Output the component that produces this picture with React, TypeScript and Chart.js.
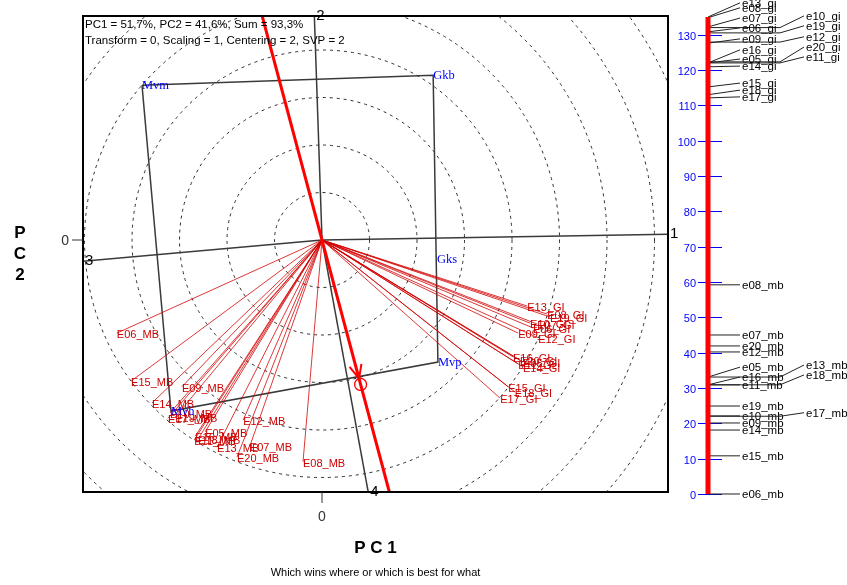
import React, { useEffect, useRef } from 'react';
import Chart from 'chart.js/auto';

// ---------- data ----------
const pcInfo = 'PC1 = 51,7%, PC2 = 41,6%, Sum = 93,3%';
const modelInfo = 'Transform = 0, Scaling = 1, Centering = 2, SVP = 2';
const caption = 'Which wins where or which is best for what';
const xTitle = 'P C 1';
const yTitle = ['P', 'C', '2'];

const genotypeNames = ['Mvm', 'Gkb', 'Gks', 'Mvp', 'Mvh'];
const genotypePC1 = [-3.79, 2.34, 2.42, 2.44, -3.18];
const genotypePC2 = [3.26, 3.47, -0.4, -2.57, -3.6];
// polygon vertices (convex hull) and sector number for each hull edge
const hullVertices = ['Mvm', 'Gkb', 'Mvp', 'Mvh'];
const sectorLabels = ['2', '1', '4', '3'];

const envNames = [
  'E06_MB', 'E15_MB', 'E09_MB', 'E14_MB', 'E10_MB', 'E19_MB', 'E17_MB', 'E12_MB',
  'E05_MB', 'E16_MB', 'E18_MB', 'E11_MB', 'E13_MB', 'E07_MB', 'E20_MB', 'E08_MB',
  'E13_GI', 'E08_GI', 'E19_GI', 'E10_GI', 'E07_GI', 'E06_GI', 'E09_GI', 'E12_GI',
  'E16_GI', 'E20_GI', 'E05_GI', 'E11_GI', 'E14_GI', 'E15_GI', 'E18_GI', 'E17_GI',
];
const envPC1 = [
  -4.32, -4.02, -2.95, -3.58, -3.2, -3.09, -3.24, -1.66,
  -2.46, -2.67, -2.61, -2.69, -2.21, -1.52, -1.79, -0.4,
  4.32, 4.74, 4.8, 4.38, 4.53, 4.44, 4.13, 4.55,
  4.02, 4.17, 4.23, 4.13, 4.23, 3.92, 4.06, 3.75,
];
const envPC2 = [
  -1.96, -2.97, -3.09, -3.43, -3.64, -3.73, -3.75, -3.79,
  -4.04, -4.13, -4.19, -4.21, -4.36, -4.34, -4.57, -4.67,
  -1.39, -1.56, -1.62, -1.75, -1.77, -1.85, -1.96, -2.06,
  -2.46, -2.53, -2.57, -2.61, -2.67, -3.09, -3.2, -3.33,
];
const circleRadii = [1, 2, 3, 4, 5, 6, 7, 8, 9, 10];

const rankNames = [
  'e13_gi', 'e08_gi', 'e07_gi', 'e10_gi', 'e06_gi', 'e19_gi', 'e09_gi', 'e12_gi',
  'e16_gi', 'e05_gi', 'e20_gi', 'e11_gi', 'e14_gi', 'e15_gi', 'e18_gi', 'e17_gi',
  'e08_mb', 'e07_mb', 'e20_mb', 'e12_mb', 'e05_mb', 'e13_mb', 'e16_mb', 'e18_mb',
  'e11_mb', 'e19_mb', 'e10_mb', 'e17_mb', 'e09_mb', 'e14_mb', 'e15_mb', 'e06_mb',
];
const rankValues = [
  135.0, 134.8, 132.2, 132.0, 130.8, 130.5, 127.6, 127.9,
  122.0, 122.0, 122.3, 122.0, 120.9, 115.2, 113.0, 112.1,
  59.2, 45.0, 41.9, 40.2, 33.1, 33.1, 30.9, 30.9,
  30.9, 24.9, 22.1, 22.0, 20.1, 18.1, 10.8, 0,
];
const rankTicks = [0, 10, 20, 30, 40, 50, 60, 70, 80, 90, 100, 110, 120, 130];

// ---------- layout (label placement for the ranking column) ----------
const rankColumn = [
  1, 1, 1, 2, 1, 2, 1, 2, 1, 1, 2, 2, 1, 1, 1, 1,
  1, 1, 1, 1, 1, 2, 1, 2, 1, 1, 1, 2, 1, 1, 1, 1,
];
const rankLabelAt = [
  139.0, 137.6, 134.7, 135.3, 131.9, 132.5, 128.8, 129.4,
  125.7, 123.1, 126.5, 123.7, 121.1, 116.3, 114.3, 112.4,
  59.2, 45.0, 41.9, 40.2, 35.9, 36.5, 33.1, 33.7,
  30.9, 24.9, 22.1, 23.0, 20.1, 18.1, 10.8, 0,
];

const X_MIN = -5.032, X_MAX = 7.284, Y_MIN = -5.305, Y_MAX = 4.716;
const RANK_MIN = 0.566, RANK_MAX = 135.28;

const SANS = '"Liberation Sans", Arial, sans-serif';
const SERIF = '"Liberation Serif", "Times New Roman", serif';

function extendRay(dx: number, dy: number) {
  let s = Infinity;
  if (dx > 0) s = Math.min(s, X_MAX / dx);
  if (dx < 0) s = Math.min(s, X_MIN / dx);
  if (dy > 0) s = Math.min(s, Y_MAX / dy);
  if (dy < 0) s = Math.min(s, Y_MIN / dy);
  return { x: dx * s, y: dy * s };
}

function gIndex(name: string) {
  return genotypeNames.indexOf(name);
}

function sectorRays() {
  const rays: { x: number; y: number; label: string }[] = [];
  for (let i = 0; i < hullVertices.length; i++) {
    const a = gIndex(hullVertices[i]);
    const b = gIndex(hullVertices[(i + 1) % hullVertices.length]);
    const ax = genotypePC1[a], ay = genotypePC2[a];
    const ex = genotypePC1[b] - ax, ey = genotypePC2[b] - ay;
    const t = -(ax * ex + ay * ey) / (ex * ex + ey * ey);
    const fx = ax + t * ex, fy = ay + t * ey;
    const end = extendRay(fx, fy);
    rays.push({ x: end.x, y: end.y, label: sectorLabels[i] });
  }
  return rays;
}

const mean = (a: number[]) => a.reduce((s, v) => s + v, 0) / a.length;

const biplotPlugin = {
  id: 'biplotDecor',
  beforeDatasetsDraw(chart: any) {
    const { ctx, chartArea: a, scales } = chart;
    const x = scales.x, y = scales.y;
    const ox = x.getPixelForValue(0), oy = y.getPixelForValue(0);
    const unit = x.getPixelForValue(1) - ox;
    ctx.save();
    ctx.beginPath();
    ctx.rect(a.left, a.top, a.right - a.left, a.bottom - a.top);
    ctx.clip();
    ctx.setLineDash([3, 4]);
    ctx.strokeStyle = '#2a2a2a';
    ctx.lineWidth = 1;
    for (const r of circleRadii) {
      ctx.beginPath();
      ctx.arc(ox, oy, r * unit, 0, Math.PI * 2);
      ctx.stroke();
    }
    ctx.restore();
  },
  afterDatasetsDraw(chart: any) {
    const { ctx, chartArea: a, scales } = chart;
    const x = scales.x, y = scales.y;
    const ox = x.getPixelForValue(0), oy = y.getPixelForValue(0);
    ctx.save();

    // environment labels
    ctx.font = `11px ${SANS}`;
    ctx.fillStyle = '#cc0000';
    ctx.textAlign = 'left';
    ctx.textBaseline = 'middle';
    envNames.forEach((n, i) => {
      ctx.fillText(n, x.getPixelForValue(envPC1[i]), y.getPixelForValue(envPC2[i]) + 2);
    });

    // genotype labels
    ctx.font = `12.5px ${SERIF}`;
    ctx.fillStyle = '#0000ff';
    genotypeNames.forEach((n, i) => {
      ctx.fillText(n, x.getPixelForValue(genotypePC1[i]), y.getPixelForValue(genotypePC2[i]) + 1);
    });

    // average environment circle + arrow
    const cx = x.getPixelForValue(mean(envPC1));
    const cy = y.getPixelForValue(mean(envPC2));
    const L = Math.hypot(cx - ox, cy - oy);
    const ux = (cx - ox) / L, uy = (cy - oy) / L;
    ctx.strokeStyle = '#ff0000';
    ctx.lineWidth = 1.3;
    ctx.beginPath();
    ctx.arc(cx, cy, 6, 0, Math.PI * 2);
    ctx.stroke();
    const tx = cx - ux * 6, ty = cy - uy * 6;
    ctx.lineWidth = 2;
    for (const ang of [0.42, -0.42]) {
      const bx = -ux * Math.cos(ang) + uy * Math.sin(ang);
      const by = -ux * Math.sin(ang) - uy * Math.cos(ang);
      ctx.beginPath();
      ctx.moveTo(tx, ty);
      ctx.lineTo(tx + bx * 15, ty + by * 15);
      ctx.stroke();
    }

    // info text
    ctx.font = `11.5px ${SANS}`;
    ctx.fillStyle = '#000';
    ctx.fillText(pcInfo, a.left + 2, a.top + 9);
    ctx.fillText(modelInfo, a.left + 2, a.top + 25);
    ctx.restore();
  },
  afterDraw(chart: any) {
    const { ctx, chartArea: a, scales } = chart;
    const x = scales.x, y = scales.y, yr = scales.yr;
    const ox = x.getPixelForValue(0), oy = y.getPixelForValue(0);
    ctx.save();

    // frame
    ctx.strokeStyle = '#000';
    ctx.lineWidth = 2;
    ctx.strokeRect(a.left, a.top, a.right - a.left, a.bottom - a.top);

    // sector numbers
    ctx.font = `15px ${SANS}`;
    ctx.fillStyle = '#000';
    ctx.textAlign = 'left';
    ctx.textBaseline = 'middle';
    for (const r of sectorRays()) {
      ctx.fillText(r.label, x.getPixelForValue(r.x) + 2, y.getPixelForValue(r.y));
    }

    // zero ticks
    ctx.lineWidth = 1;
    ctx.strokeStyle = '#333';
    ctx.beginPath();
    ctx.moveTo(a.left - 11, oy);
    ctx.lineTo(a.left, oy);
    ctx.moveTo(ox, a.bottom);
    ctx.lineTo(ox, a.bottom + 11);
    ctx.stroke();
    ctx.font = `14px ${SANS}`;
    ctx.fillStyle = '#333';
    ctx.textAlign = 'right';
    ctx.fillText('0', a.left - 14, oy + 1);
    ctx.textAlign = 'center';
    ctx.fillText('0', ox, a.bottom + 25);

    // axis titles
    ctx.fillStyle = '#000';
    ctx.font = `bold 17px ${SANS}`;
    ctx.fillText(xTitle, (a.left + a.right) / 2, 548);
    const midY = (a.top + a.bottom) / 2;
    yTitle.forEach((c, i) => ctx.fillText(c, 20, midY - 21 + i * 21));
    ctx.font = `11px ${SANS}`;
    ctx.fillText(caption, (a.left + a.right) / 2, 573);

    // ranking column
    const axisX = 708;
    ctx.strokeStyle = '#0000ff';
    ctx.lineWidth = 1;
    ctx.fillStyle = '#0000ff';
    ctx.font = `11px ${SANS}`;
    ctx.textAlign = 'right';
    for (const t of rankTicks) {
      const py = Math.round(yr.getPixelForValue(t)) + 0.5;
      ctx.beginPath();
      ctx.moveTo(axisX - 10, py);
      ctx.lineTo(axisX + 14, py);
      ctx.stroke();
      ctx.fillText(String(t), axisX - 12, py + 1);
    }
    ctx.strokeStyle = '#222';
    ctx.fillStyle = '#000';
    ctx.textAlign = 'left';
    ctx.font = `11.5px ${SANS}`;
    rankNames.forEach((n, i) => {
      const pv = yr.getPixelForValue(rankValues[i]);
      const pl = yr.getPixelForValue(rankLabelAt[i]);
      ctx.beginPath();
      ctx.moveTo(axisX, pv);
      if (rankColumn[i] === 1) {
        ctx.lineTo(axisX + 32, pl);
      } else {
        ctx.lineTo(axisX + 72, pv);
        ctx.lineTo(axisX + 96, pl);
      }
      ctx.stroke();
      ctx.fillText(n, rankColumn[i] === 1 ? axisX + 34 : axisX + 98, pl + 1);
    });
    const vmin = Math.min(...rankValues), vmax = Math.max(...rankValues);
    ctx.strokeStyle = '#ff0000';
    ctx.lineWidth = 5;
    ctx.beginPath();
    ctx.moveTo(axisX, yr.getPixelForValue(vmin));
    ctx.lineTo(axisX, yr.getPixelForValue(vmax));
    ctx.stroke();
    ctx.restore();
  },
};

function buildDatasets() {
  const ds: any[] = [];
  const base = { showLine: true, pointRadius: 0, pointHoverRadius: 0, fill: false, tension: 0 };
  // average environment axis
  const mx = mean(envPC1), my = mean(envPC2);
  const p1 = extendRay(mx, my), p2 = extendRay(-mx, -my);
  ds.push({ ...base, label: 'AEC', data: [p2, p1], borderColor: '#ff0000', borderWidth: 3 });
  // environment vectors
  envNames.forEach((n, i) => {
    ds.push({
      ...base,
      label: n,
      data: [{ x: 0, y: 0 }, { x: envPC1[i], y: envPC2[i] }],
      borderColor: 'rgba(210,0,0,0.78)',
      borderWidth: 1,
    });
  });
  // polygon
  const poly = hullVertices.map((v) => ({ x: genotypePC1[gIndex(v)], y: genotypePC2[gIndex(v)] }));
  poly.push(poly[0]);
  ds.push({ ...base, label: 'hull', data: poly, borderColor: '#3a3a3a', borderWidth: 1.5 });
  // sector rays
  sectorRays().forEach((r) => {
    ds.push({ ...base, label: 'ray' + r.label, data: [{ x: 0, y: 0 }, { x: r.x, y: r.y }], borderColor: '#3a3a3a', borderWidth: 1.5 });
  });
  return ds;
}

export default function App() {
  const ref = useRef<HTMLCanvasElement>(null);
  useEffect(() => {
    if (!ref.current) return;
    const chart = new Chart(ref.current, {
      type: 'scatter',
      data: { datasets: buildDatasets() },
      options: {
        animation: false,
        responsive: false,
        devicePixelRatio: 1,
        events: [],
        layout: { padding: { left: 83, top: 16, right: 179, bottom: 93 } },
        plugins: { legend: { display: false }, tooltip: { enabled: false }, title: { display: false } },
        scales: {
          x: { type: 'linear', min: X_MIN, max: X_MAX, display: false },
          y: { type: 'linear', min: Y_MIN, max: Y_MAX, display: false },
          yr: { type: 'linear', position: 'right', min: RANK_MIN, max: RANK_MAX, display: false },
        },
      } as any,
      plugins: [biplotPlugin],
    });
    return () => chart.destroy();
  }, []);
  return (
    <div style={{ position: 'absolute', left: 0, top: 0, width: 847, height: 585, background: '#fff' }}>
      <canvas ref={ref} width={847} height={585} style={{ display: 'block', width: 847, height: 585 }} />
    </div>
  );
}
